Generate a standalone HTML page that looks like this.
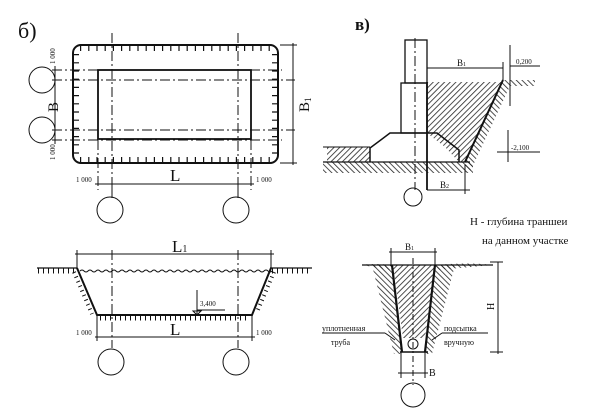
<!DOCTYPE html>
<html><head><meta charset="utf-8"><style>
html,body{margin:0;padding:0;background:#fff;}
svg{display:block;}
text{font-family:"Liberation Serif",serif;fill:#111;}
</style></head><body>
<svg width="600" height="415" viewBox="0 0 600 415" xmlns="http://www.w3.org/2000/svg">
<defs>
<pattern id="h1" width="4" height="4" patternUnits="userSpaceOnUse" patternTransform="rotate(45)"><line x1="0" y1="0" x2="0" y2="4" stroke="#222" stroke-width="1.6"/></pattern>
<pattern id="h2" width="4" height="4" patternUnits="userSpaceOnUse" patternTransform="rotate(-45)"><line x1="0" y1="0" x2="0" y2="4" stroke="#222" stroke-width="1.6"/></pattern>
</defs>
<g fill="none" stroke="#111" stroke-width="1">
<!-- PLAN б -->
<rect x="73" y="45" width="205" height="118" rx="8" stroke-width="2"/>
<rect x="98" y="70" width="153" height="69" stroke-width="1.8"/>
<g stroke-width="6" stroke-dasharray="1.2 7">
<line x1="80" y1="48" x2="272" y2="48"/>
<line x1="80" y1="160" x2="272" y2="160"/>
<line x1="76" y1="54" x2="76" y2="156"/>
<line x1="275" y1="54" x2="275" y2="156"/>
</g>
<g stroke-dasharray="10 3 2 3">
<line x1="112" y1="33" x2="112" y2="198"/>
<line x1="238" y1="33" x2="238" y2="198"/>
<line x1="52" y1="80" x2="295" y2="80"/>
<line x1="52" y1="130" x2="295" y2="130"/>
<line x1="52" y1="70" x2="282" y2="70"/>
<line x1="52" y1="140" x2="282" y2="140"/>
<line x1="98" y1="140" x2="98" y2="190"/>
<line x1="251" y1="140" x2="251" y2="190"/>
</g>
<line x1="55" y1="66" x2="55" y2="144"/>
<line x1="293" y1="43" x2="293" y2="165"/>
<line x1="280" y1="45" x2="297" y2="45"/><line x1="280" y1="163" x2="297" y2="163"/>
<line x1="95" y1="184" x2="254" y2="184"/>
<line x1="112" y1="184" x2="112" y2="198"/><line x1="238" y1="184" x2="238" y2="198"/>
<circle cx="42" cy="80" r="13"/><circle cx="42" cy="130" r="13"/>
<circle cx="110" cy="210" r="13"/><circle cx="236" cy="210" r="13"/>

<!-- SECTION -->
<line x1="75" y1="254" x2="274" y2="254"/>
<line x1="77" y1="250" x2="77" y2="268"/><line x1="271" y1="250" x2="271" y2="268"/>
<line x1="37" y1="268" x2="77" y2="268" stroke-width="1.3"/>
<line x1="270" y1="268" x2="312" y2="268" stroke-width="1.3"/>
<g stroke-width="5" stroke-dasharray="1 4"><line x1="38" y1="271" x2="76" y2="271"/><line x1="272" y1="271" x2="310" y2="271"/><line x1="100" y1="318" x2="250" y2="318"/></g>
<path d="M80 271 q2 -2 4 0 t4 0 t4 0 t4 0 t4 0 t4 0 t4 0 t4 0 t4 0 t4 0 t4 0 t4 0 t4 0 t4 0 t4 0 t4 0 t4 0 t4 0 t4 0 t4 0 t4 0 t4 0 t4 0 t4 0 t4 0 t4 0 t4 0 t4 0 t4 0 t4 0 t4 0 t4 0 t4 0 t4 0 t4 0 t4 0 t4 0 t4 0 t4 0 t4 0 t4 0 t4 0 t4 0 t4 0 t4 0 t4 0 t4 0 t4 0"/>
<path d="M77 268 L97 315 L252 315 L271 268" stroke-width="2"/>
<path d="M74 272 L92 314 M274 272 L257 312" stroke-width="4" stroke-dasharray="1 4"/>
<g stroke-dasharray="10 3 2 3">
<line x1="112" y1="250" x2="112" y2="348"/><line x1="238" y1="250" x2="238" y2="348"/>
</g>
<line x1="97" y1="315" x2="97" y2="341"/><line x1="252" y1="315" x2="252" y2="341"/>
<line x1="95" y1="337" x2="255" y2="337"/>
<line x1="197" y1="290" x2="197" y2="315"/><line x1="197" y1="310" x2="225" y2="310"/>
<path d="M193 311 L197 315 L201 311 Z"/>
<circle cx="111" cy="362" r="13"/><circle cx="236" cy="362" r="13"/>

<!-- в) foundation -->
<rect x="327" y="147" width="43" height="15" fill="url(#h1)" stroke="none"/>
<rect x="323" y="162" width="150" height="11" fill="url(#h2)" stroke="none"/>
<path d="M427 82 L503 82 L465 162 L459 162 L445 147 L427 133 Z" fill="url(#h1)" stroke="none"/>
<path d="M503 80 L535 80 L535 86 L510 86 L470 172 L463 168 Z" fill="url(#h2)" stroke="none"/>
<line x1="323" y1="162" x2="470" y2="162" stroke-width="1.3"/>
<line x1="323" y1="147" x2="370" y2="147"/>
<path d="M370 162 L370 148 L390 133 L437 133 L459 150 L459 162" stroke-width="1.5"/>
<rect x="405" y="40" width="22" height="43" stroke-width="1.3"/>
<rect x="401" y="83" width="26" height="50" stroke-width="1.3"/>
<line x1="427" y1="82" x2="427" y2="190" stroke-width="1.8"/>
<line x1="503" y1="80" x2="465" y2="162" stroke-width="2"/>
<line x1="415" y1="38" x2="415" y2="190" stroke-dasharray="10 3 2 3"/>
<line x1="427" y1="68" x2="503" y2="68"/><line x1="503" y1="62" x2="503" y2="80"/>
<line x1="510" y1="45" x2="510" y2="106"/><line x1="508" y1="130" x2="508" y2="162"/>
<line x1="497" y1="152" x2="540" y2="152"/><line x1="510" y1="66" x2="540" y2="66"/>
<line x1="465" y1="165" x2="465" y2="194"/><line x1="427" y1="190" x2="470" y2="190"/>
<circle cx="413" cy="197" r="9"/>

<!-- lower trench -->
<path d="M372 265 L392 265 L402 354 L394 354 Z" fill="url(#h2)" stroke="none"/>
<path d="M435 265 L455 265 L432 354 L425 354 Z" fill="url(#h2)" stroke="none"/>
<path d="M362 265 Q372 263 392 265 L390 270 Z" fill="url(#h2)" stroke="none"/>
<path d="M435 265 Q470 262 493 265 L437 270 Z" fill="url(#h2)" stroke="none"/>
<path d="M393 265 L435 265 L425 338 L403 338 Z" fill="url(#h1)" stroke="none"/>
<line x1="362" y1="265" x2="493" y2="265" stroke-width="1.3"/>
<line x1="392" y1="265" x2="402" y2="352" stroke-width="2.2"/>
<line x1="435" y1="265" x2="425" y2="352" stroke-width="2.2"/>
<line x1="400" y1="352" x2="428" y2="352" stroke-width="1.5"/>
<line x1="391" y1="248" x2="391" y2="265"/><line x1="435" y1="248" x2="435" y2="265"/>
<line x1="389" y1="252" x2="437" y2="252"/>
<line x1="413" y1="258" x2="413" y2="385" stroke-dasharray="6 3 2 3"/>
<line x1="498" y1="262" x2="498" y2="354"/>
<line x1="490" y1="262" x2="503" y2="262"/><line x1="490" y1="352" x2="503" y2="352"/>
<circle cx="413" cy="344" r="5"/>
<line x1="401" y1="352" x2="401" y2="378"/><line x1="425" y1="352" x2="425" y2="378"/>
<line x1="398" y1="373" x2="428" y2="373"/>
<circle cx="413" cy="395" r="12"/>
<line x1="322" y1="333" x2="385" y2="333"/><line x1="385" y1="333" x2="395" y2="340"/>
<line x1="442" y1="333" x2="488" y2="333"/><line x1="442" y1="333" x2="432" y2="340"/>
</g>
<g>
<text x="18" y="38" font-size="22">б)</text>
<text x="355" y="30" font-size="17" font-weight="bold">в)</text>
<text transform="translate(58,112) rotate(-90)" font-size="15">B</text>
<text transform="translate(309,112) rotate(-90)" font-size="15">B<tspan font-size="9" dy="2">1</tspan></text>
<text x="170" y="181" font-size="17">L</text>
<text x="172" y="252" font-size="17">L<tspan font-size="10">1</tspan></text>
<text x="170" y="335" font-size="17">L</text>
<g font-size="7">
<text x="76" y="182">1 000</text><text x="256" y="182">1 000</text>
<text x="76" y="335">1 000</text><text x="256" y="335">1 000</text>
<text transform="translate(55,64) rotate(-90)">1 000</text>
<text transform="translate(55,160) rotate(-90)">1 000</text>
<text x="200" y="306">3,400</text>
<text x="516" y="64">0,200</text>
<text x="511" y="150">-2,100</text>
</g>
<text x="457" y="66" font-size="9">B<tspan font-size="6">1</tspan></text>
<text x="440" y="188" font-size="9">B<tspan font-size="6">2</tspan></text>
<text x="405" y="250" font-size="9">B<tspan font-size="6">1</tspan></text>
<text x="429" y="376" font-size="10">B</text>
<text transform="translate(494,310) rotate(-90)" font-size="10">H</text>
<g font-size="11">
<text x="470" y="225">H - глубина траншеи</text>
<text x="482" y="244">на данном участке</text>
<text x="322" y="331" font-size="8">уплотненная</text>
<text x="331" y="345" font-size="8">труба</text>
<text x="444" y="331" font-size="8">подсыпка</text>
<text x="444" y="345" font-size="8">вручную</text>
</g>
</g>
</svg>
</body></html>
